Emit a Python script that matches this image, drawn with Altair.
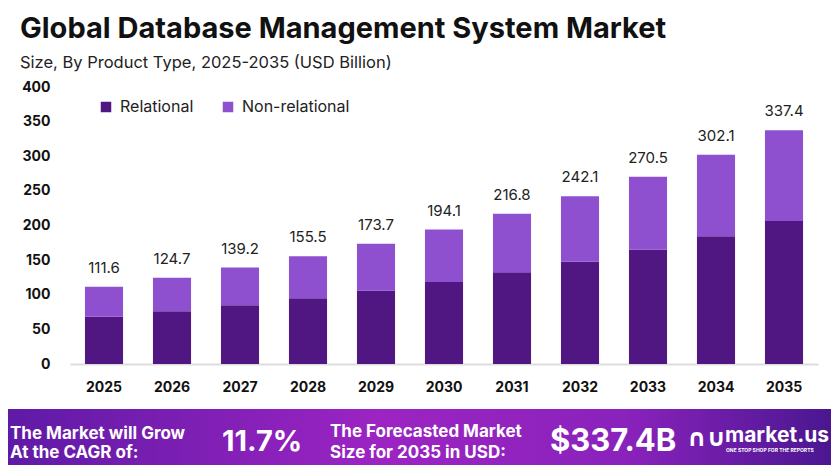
import altair as alt
import pandas as pd

years = ["2025", "2026", "2027", "2028", "2029", "2030", "2031", "2032", "2033", "2034", "2035"]
totals = [111.6, 124.7, 139.2, 155.5, 173.7, 194.1, 216.8, 242.1, 270.5, 302.1, 337.4]
relational = [68.1, 76.0, 84.8, 95.0, 106.0, 118.4, 132.5, 147.6, 165.5, 184.6, 206.5]
segments = ["Relational", "Non-relational"]
y_ticks = [0, 50, 100, 150, 200, 250, 300, 350, 400]

title_text = "Global Database Management System Market"
subtitle_text = "Size, By Product Type, 2025-2035 (USD Billion)"
banner_left = ["The Market will Grow", "At the CAGR of:"]
cagr_text = "11.7%"
banner_mid = ["The Forecasted Market", "Size for 2035 in USD:"]
forecast_text = "$337.4B"
brand_text = "market.us"
brand_tag = "ONE STOP SHOP FOR THE REPORTS"

FONT = "Inter"
C_REL = "#501681"
C_NON = "#8e50cf"

rows = []
for y, t, r in zip(years, totals, relational):
    rows.append({"year": y, "segment": "Relational", "value": r, "order": 0})
    rows.append({"year": y, "segment": "Non-relational", "value": round(t - r, 1), "order": 1})
df = pd.DataFrame(rows)
tot_df = pd.DataFrame({"year": years, "total": totals})

PAD_L, PAD_T, PAD_R, PAD_B = 62, 79, 13, 101
W, H = 823 - PAD_L - PAD_R, 457 - PAD_T - PAD_B

xscale = alt.Scale(domain=years, paddingInner=0.44, paddingOuter=0.22)
yscale = alt.Scale(domain=[0, 400], nice=False)

xaxis = alt.Axis(title=None, labelAngle=0, labelFont=FONT, labelFontSize=14,
                 labelFontWeight="bold", labelColor="#111111", labelPadding=16,
                 ticks=False, grid=False, domainColor="#dddddd", domainWidth=2)
yaxis = alt.Axis(title=None, values=y_ticks, grid=False, domain=False,
                 ticks=False, labelOverlap=False, labelFont=FONT, labelFontSize=14,
                 labelFontWeight="bold", labelColor="#111111", labelPadding=20)

bars = alt.Chart(df).mark_bar().encode(
    x=alt.X("year:N", scale=xscale, sort=years, axis=xaxis),
    y=alt.Y("value:Q", stack="zero", scale=yscale, axis=yaxis),
    color=alt.Color("segment:N", scale=alt.Scale(domain=segments, range=[C_REL, C_NON]),
                    legend=alt.Legend(title=None, orient="none", legendX=28, legendY=12,
                                      direction="horizontal", symbolType="square",
                                      symbolSize=110, symbolStrokeWidth=0, labelFont=FONT,
                                      labelFontSize=16, labelColor="#222222",
                                      columnPadding=26, labelOffset=6)),
    order=alt.Order("order:Q"),
)

labels = alt.Chart(tot_df).mark_text(font=FONT, fontSize=15, color="#222222",
                                     baseline="bottom", dy=-11).encode(
    x=alt.X("year:N", scale=xscale, sort=years, axis=xaxis),
    y=alt.Y("total:Q", scale=yscale, axis=yaxis),
    text=alt.Text("total:Q", format=".1f"),
)

def txt(text, x, y, size, weight="normal", color="#111111", align="left", font=FONT):
    return alt.Chart(pd.DataFrame({"t": [text]})).mark_text(
        font=font, fontSize=size, fontWeight=weight, color=color, align=align,
        baseline="middle").encode(x=alt.value(x), y=alt.value(y), text="t:N")

title = txt(title_text, -50, -58, 29, "bold", "#111111")
subtitle = txt(subtitle_text, -50, -24, 16.5, "normal", "#222222")

grad = alt.Gradient(gradient="linear", x1=0, x2=1, y1=0, y2=0, stops=[
    alt.GradientStop(color="#5f1aa6", offset=0),
    alt.GradientStop(color="#9c24c2", offset=0.45),
    alt.GradientStop(color="#8a22bc", offset=0.75),
    alt.GradientStop(color="#4a1790", offset=1),
])
banner = alt.Chart(pd.DataFrame({"a": [0]})).mark_rect(color=grad).encode(
    x=alt.value(-PAD_L), x2=alt.value(W + PAD_R), y=alt.value(322), y2=alt.value(H + PAD_B))

bl1 = txt(banner_left[0], -60, 347, 17, "bold", "white")
bl2 = txt(banner_left[1], -60, 366, 17, "bold", "white")
cagr = txt(cagr_text, 152, 355, 29, "bold", "white")
bm1 = txt(banner_mid[0], 260, 345, 17, "bold", "white")
bm2 = txt(banner_mid[1], 260, 366, 17, "bold", "white")
fc = txt(forecast_text, 480, 355, 31, "bold", "white")
icon = txt("∩∪", 617, 352, 24, "bold", "white", font="DejaVu Sans")
brand = txt(brand_text, 655, 349, 21, "bold", "white")
tag = txt(brand_tag, 656, 363, 5, "bold", "white")

chart = alt.layer(bars, labels, title, subtitle, banner, bl1, bl2, cagr, bm1, bm2, fc,
                  icon, brand, tag).properties(
    width=W, height=H,
    autosize=alt.AutoSizeParams(type="none"),
    padding={"left": PAD_L, "top": PAD_T, "right": PAD_R, "bottom": PAD_B},
).configure(background="white").configure_view(stroke="transparent", strokeWidth=0)

chart.save("out.html", embed_options={"renderer": "svg", "actions": False})
